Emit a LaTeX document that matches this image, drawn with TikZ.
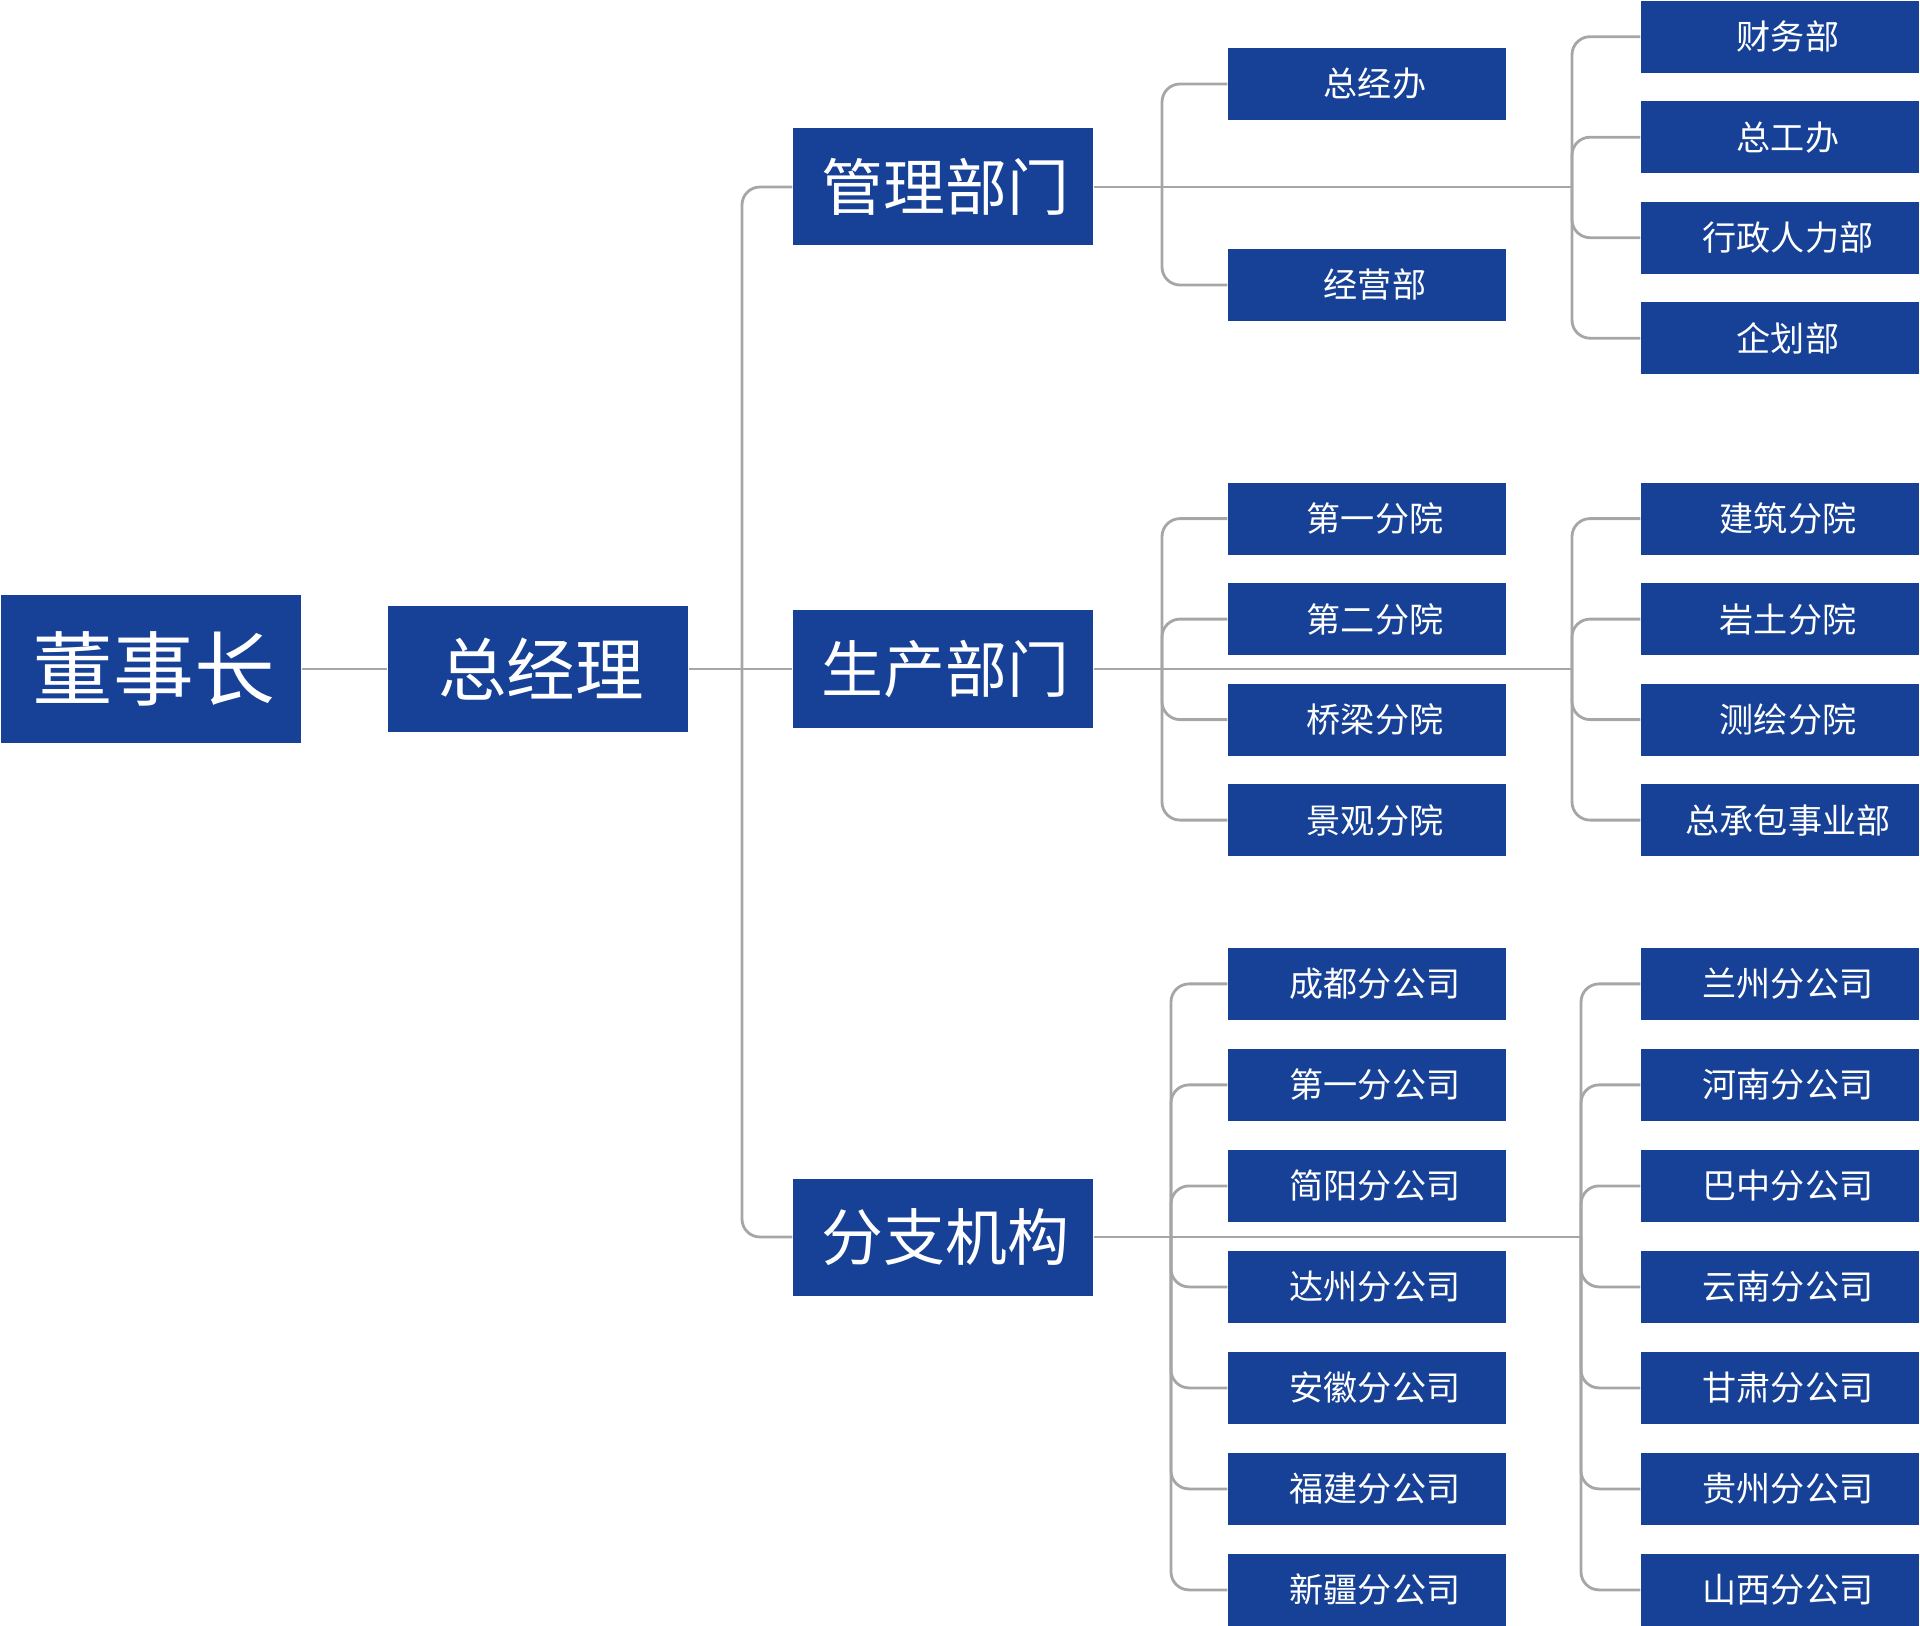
\documentclass[tikz,border=0pt]{standalone}
\usepackage{fontspec}
\newfontfamily\cjk{Noto Sans CJK SC}
\definecolor{orgblue}{RGB}{22,65,150}
\definecolor{linegray}{RGB}{166,166,166}
\tikzstyle{chairbox} = [fill=orgblue, text=white, inner sep=0pt, minimum width=3cm, minimum height=1.47cm, font=\cjk\fontsize{23}{23}\selectfont, execute at begin node=\hspace*{0.6mm}]
\tikzstyle{gmbox} = [fill=orgblue, text=white, inner sep=0pt, minimum width=3cm, minimum height=1.25cm, font=\cjk\fontsize{19.5}{19.5}\selectfont, execute at begin node=\hspace*{0.6mm}]
\tikzstyle{deptbox} = [fill=orgblue, text=white, inner sep=0pt, minimum width=3cm, minimum height=1.17cm, font=\cjk\fontsize{17.6}{17.6}\selectfont, execute at begin node=\hspace*{0.5mm}]
\tikzstyle{unitbox} = [fill=orgblue, text=white, inner sep=0pt, minimum width=2.78cm, minimum height=0.72cm, font=\cjk\fontsize{9.7}{9.7}\selectfont, execute at begin node=\hspace*{1.6mm}]
\tikzstyle{link} = [draw=linegray, line width=0.8pt, rounded corners=0.18cm]

\begin{document}
\begin{tikzpicture}
        \useasboundingbox (0,0) rectangle (19.2,-16.26);
        \node[chairbox] (chair) at (1.51,-6.69) {董事长};
        \node[gmbox] (gm) [right of=chair, node distance=3.87cm] {总经理};
        \node[deptbox] (prod) [right of=gm, node distance=4.05cm] {生产部门};
        \node[deptbox] (mgmt) [above of=prod, node distance=4.82cm] {管理部门};
        \node[deptbox] (branch) [below of=prod, node distance=5.68cm] {分支机构};

        % 管理部门
        \node[unitbox] (zjb) [right of=mgmt, node distance=4.24cm, yshift=1.03cm] {总经办};
        \node[unitbox] (jyb) [below of=zjb, node distance=2.01cm] {经营部};
        \node[unitbox] (cwb) [right of=mgmt, node distance=8.37cm, yshift=1.503cm] {财务部};
        \node[unitbox] (zgb) [below of=cwb, node distance=1.005cm] {总工办};
        \node[unitbox] (xzb) [below of=zgb, node distance=1.005cm] {行政人力部};
        \node[unitbox] (qhb) [below of=xzb, node distance=1.005cm] {企划部};

        % 生产部门
        \node[unitbox] (fy1) [right of=prod, node distance=4.24cm, yshift=1.504cm] {第一分院};
        \node[unitbox] (fy2) [below of=fy1, node distance=1.005cm] {第二分院};
        \node[unitbox] (qlfy) [below of=fy2, node distance=1.005cm] {桥梁分院};
        \node[unitbox] (jgfy) [below of=qlfy, node distance=1.005cm] {景观分院};
        \node[unitbox] (jzfy) [right of=prod, node distance=8.37cm, yshift=1.504cm] {建筑分院};
        \node[unitbox] (ytfy) [below of=jzfy, node distance=1.005cm] {岩土分院};
        \node[unitbox] (chfy) [below of=ytfy, node distance=1.005cm] {测绘分院};
        \node[unitbox] (zcb) [below of=chfy, node distance=1.005cm] {总承包事业部};

        % 分支机构
        \node[unitbox] (cd) [right of=branch, node distance=4.24cm, yshift=2.531cm] {成都分公司};
        \node[unitbox] (dy) [below of=cd, node distance=1.01cm] {第一分公司};
        \node[unitbox] (jy) [below of=dy, node distance=1.01cm] {简阳分公司};
        \node[unitbox] (dz) [below of=jy, node distance=1.01cm] {达州分公司};
        \node[unitbox] (ah) [below of=dz, node distance=1.01cm] {安徽分公司};
        \node[unitbox] (fj) [below of=ah, node distance=1.01cm] {福建分公司};
        \node[unitbox] (xj) [below of=fj, node distance=1.01cm] {新疆分公司};
        \node[unitbox] (lz) [right of=branch, node distance=8.37cm, yshift=2.531cm] {兰州分公司};
        \node[unitbox] (hn) [below of=lz, node distance=1.01cm] {河南分公司};
        \node[unitbox] (bz) [below of=hn, node distance=1.01cm] {巴中分公司};
        \node[unitbox] (yn) [below of=bz, node distance=1.01cm] {云南分公司};
        \node[unitbox] (gs) [below of=yn, node distance=1.01cm] {甘肃分公司};
        \node[unitbox] (gz) [below of=gs, node distance=1.01cm] {贵州分公司};
        \node[unitbox] (sx) [below of=gz, node distance=1.01cm] {山西分公司};

        % branch points
        \coordinate (trunk) at ([xshift=2.04cm]gm.center);
        \coordinate (mgmtA) at ([xshift=2.19cm]mgmt.center);
        \coordinate (mgmtB) at ([xshift=6.29cm]mgmt.center);
        \coordinate (prodA) at ([xshift=2.19cm]prod.center);
        \coordinate (prodB) at ([xshift=6.29cm]prod.center);
        \coordinate (branchA) at ([xshift=2.28cm]branch.center);
        \coordinate (branchB) at ([xshift=6.38cm]branch.center);

        \draw[link] (chair) -- (gm);
        \draw[link] (gm) -- (prod);
        \draw[link] (trunk) |- (mgmt);
        \draw[link] (trunk) |- (branch);

        \draw[link] (mgmt) -- (mgmtB);
        \draw[link] (mgmtA) |- (zjb);
        \draw[link] (mgmtA) |- (jyb);
        \draw[link] (mgmtB) |- (cwb);
        \draw[link] (mgmtB) |- (zgb);
        \draw[link] (mgmtB) |- (xzb);
        \draw[link] (mgmtB) |- (qhb);

        \draw[link] (prod) -- (prodB);
        \draw[link] (prodA) |- (fy1);
        \draw[link] (prodA) |- (fy2);
        \draw[link] (prodA) |- (qlfy);
        \draw[link] (prodA) |- (jgfy);
        \draw[link] (prodB) |- (jzfy);
        \draw[link] (prodB) |- (ytfy);
        \draw[link] (prodB) |- (chfy);
        \draw[link] (prodB) |- (zcb);

        \draw[link] (branch) -- (branchB);
        \draw[link] (branchA) |- (cd);
        \draw[link] (branchA) |- (dy);
        \draw[link] (branchA) |- (jy);
        \draw[link] (branchA) |- (dz);
        \draw[link] (branchA) |- (ah);
        \draw[link] (branchA) |- (fj);
        \draw[link] (branchA) |- (xj);
        \draw[link] (branchB) |- (lz);
        \draw[link] (branchB) |- (hn);
        \draw[link] (branchB) |- (bz);
        \draw[link] (branchB) |- (yn);
        \draw[link] (branchB) |- (gs);
        \draw[link] (branchB) |- (gz);
        \draw[link] (branchB) |- (sx);
    \end{tikzpicture}
\end{document}
